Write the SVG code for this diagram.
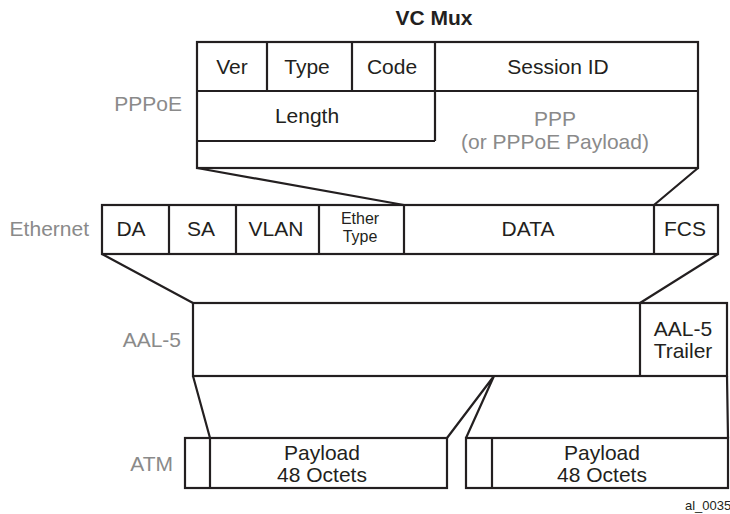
<svg xmlns="http://www.w3.org/2000/svg" width="730" height="514" viewBox="0 0 730 514">
<style>
.b{fill:#fff;stroke:#231f20;stroke-width:2.2}
.l{fill:none;stroke:#231f20;stroke-width:2.2}
.t{font-family:"Liberation Sans",Arial,sans-serif;font-size:21px;fill:#231f20;text-anchor:middle}
.s{font-size:16px}
.g{font-family:"Liberation Sans",Arial,sans-serif;font-size:21px;fill:#8a8a8a}
.r{text-anchor:end}
.c{text-anchor:middle}
</style>
<rect width="730" height="514" fill="#fff"/>
<text x="434" y="25" class="t" font-weight="bold">VC Mux</text>
<g id="connectors">
<path class="l" d="M197,168 L404,205 M698,168 L654,205"/>
<path class="l" d="M102,254 L193,303 M718,254 L640,303"/>
<path class="l" d="M193,376 L210,438 M494,376 L447,438 M494,376 L466,438 M727,376 L728,438"/>
</g>
<g id="pppoe">
<rect class="b" x="197" y="42" width="501" height="126"/>
<path class="l" d="M197,91 H698 M267,42 V91 M352,42 V91 M435,42 V141 M197,141 H435"/>
<text x="232" y="74" class="t">Ver</text>
<text x="307" y="74" class="t">Type</text>
<text x="392" y="74" class="t">Code</text>
<text x="558" y="74" class="t">Session ID</text>
<text x="307" y="123" class="t">Length</text>
<text x="555" y="126" class="g c">PPP</text>
<text x="555" y="149" class="g c">(or PPPoE Payload)</text>
<text x="182" y="111" class="g r">PPPoE</text>
</g>
<g id="ethernet">
<rect class="b" x="102" y="205" width="616" height="49"/>
<path class="l" d="M169,205 V254 M236,205 V254 M319,205 V254 M404,205 V254 M654,205 V254"/>
<text x="131" y="236" class="t">DA</text>
<text x="201" y="236" class="t">SA</text>
<text x="276" y="236" class="t">VLAN</text>
<text x="360" y="224" class="t s">Ether</text>
<text x="360" y="242" class="t s">Type</text>
<text x="528" y="236" class="t">DATA</text>
<text x="685" y="236" class="t">FCS</text>
<text x="89" y="236" class="g r">Ethernet</text>
</g>
<g id="aal5">
<rect class="b" x="193" y="303" width="534" height="73"/>
<path class="l" d="M640,303 V376"/>
<text x="683" y="336" class="t">AAL-5</text>
<text x="683" y="358" class="t">Trailer</text>
<text x="181" y="347" class="g r">AAL-5</text>
</g>
<g id="atm">
<rect class="b" x="185" y="438" width="262" height="50"/>
<path class="l" d="M210,438 V488"/>
<text x="322" y="460" class="t">Payload</text>
<text x="322" y="482" class="t">48 Octets</text>
<rect class="b" x="466" y="438" width="262" height="50"/>
<path class="l" d="M492,438 V488"/>
<text x="602" y="460" class="t">Payload</text>
<text x="602" y="482" class="t">48 Octets</text>
<text x="173" y="471" class="g r">ATM</text>
</g>
<text x="685" y="510" font-family="'Liberation Sans',Arial,sans-serif" font-size="13" fill="#231f20">al_0035</text>
</svg>
